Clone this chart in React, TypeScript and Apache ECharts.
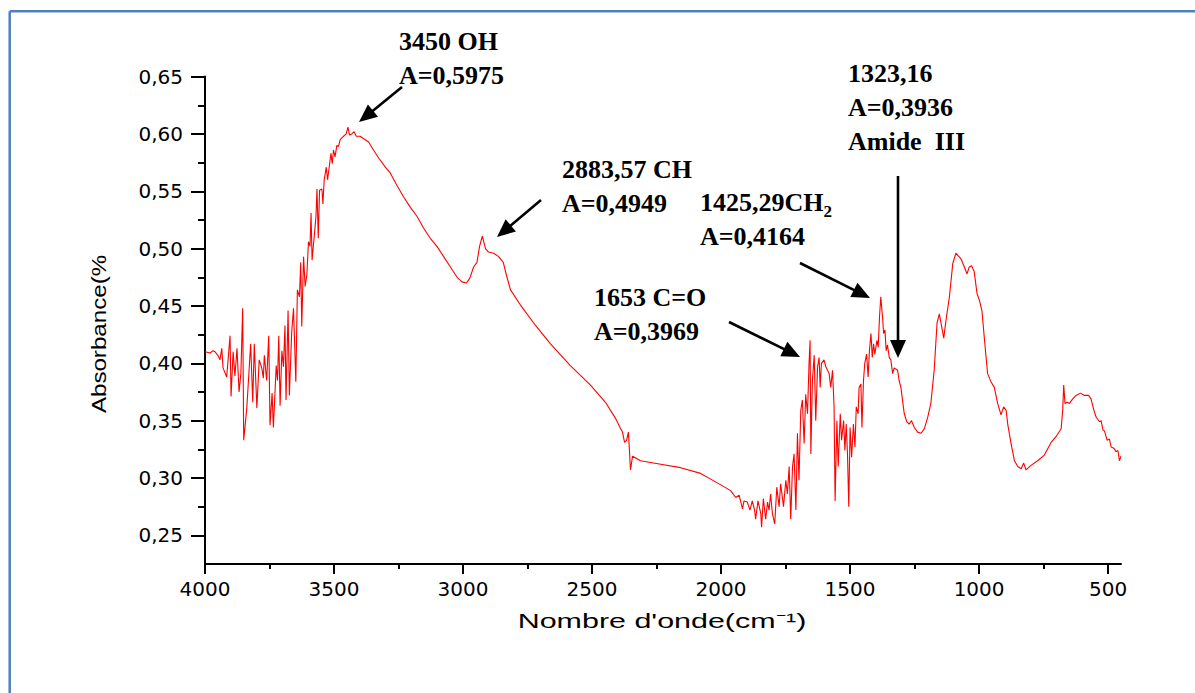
import React, { useEffect, useRef } from "react";
import * as echarts from "echarts";

// ---- Data (wavenumber cm-1, absorbance) ----
const noisyHighRegion: [number, number][] = [
  [4000, 0.410], [3980, 0.409], [3969, 0.411], [3961, 0.410], [3950, 0.407], [3942, 0.403],
  [3935, 0.413], [3930, 0.396], [3916, 0.388], [3903, 0.424], [3899, 0.371], [3891, 0.410],
  [3884, 0.389], [3876, 0.413], [3868, 0.375], [3861, 0.391], [3854, 0.448], [3850, 0.333],
  [3838, 0.361], [3823, 0.417], [3815, 0.366], [3809, 0.417], [3799, 0.361], [3790, 0.403],
  [3780, 0.396], [3774, 0.387], [3770, 0.407], [3761, 0.385], [3753, 0.424], [3748, 0.346],
  [3740, 0.374], [3735, 0.344], [3724, 0.398], [3719, 0.385], [3714, 0.424], [3709, 0.363],
  [3702, 0.411], [3696, 0.397], [3690, 0.433], [3686, 0.368], [3678, 0.446], [3673, 0.372],
  [3664, 0.427], [3657, 0.448], [3648, 0.384], [3642, 0.464],
];

const ohChBand: [number, number][] = [
  [3634, 0.458], [3629, 0.488], [3625, 0.432], [3618, 0.493], [3612, 0.467], [3605, 0.478],
  [3599, 0.506], [3593, 0.502], [3589, 0.531], [3585, 0.490], [3577, 0.510], [3570, 0.528],
  [3566, 0.552], [3561, 0.509], [3556, 0.551], [3547, 0.552], [3543, 0.539], [3538, 0.560],
  [3530, 0.571], [3525, 0.560], [3517, 0.574], [3512, 0.583], [3507, 0.574], [3502, 0.586],
  [3496, 0.580], [3489, 0.590], [3483, 0.589], [3476, 0.595], [3463, 0.598], [3453, 0.600],
  [3446, 0.606], [3440, 0.599], [3431, 0.600], [3422, 0.602], [3414, 0.598], [3399, 0.598],
  [3379, 0.595], [3366, 0.593], [3347, 0.586], [3327, 0.579], [3301, 0.571], [3282, 0.566],
  [3256, 0.555], [3230, 0.545], [3204, 0.536], [3178, 0.528], [3153, 0.518], [3127, 0.509],
  [3101, 0.502], [3075, 0.493], [3049, 0.484], [3023, 0.475], [3004, 0.471], [2987, 0.470],
  [2974, 0.474], [2959, 0.484], [2946, 0.488], [2936, 0.502], [2925, 0.511], [2913, 0.500],
  [2901, 0.497], [2881, 0.496], [2862, 0.493], [2844, 0.488],
];

const midRegion: [number, number][] = [
  [2832, 0.477], [2816, 0.464], [2778, 0.451], [2719, 0.433], [2661, 0.417], [2584, 0.398],
  [2506, 0.381], [2448, 0.366], [2409, 0.352], [2389, 0.343], [2382, 0.340], [2374, 0.331],
  [2366, 0.333], [2359, 0.340], [2351, 0.307], [2343, 0.319], [2312, 0.315], [2234, 0.312],
  [2157, 0.309], [2079, 0.304], [2040, 0.299], [2001, 0.294], [1963, 0.289], [1943, 0.283],
  [1930, 0.285], [1917, 0.273], [1911, 0.280], [1898, 0.279], [1888, 0.272], [1879, 0.280],
  [1870, 0.272], [1866, 0.264], [1857, 0.280], [1846, 0.269], [1843, 0.257], [1836, 0.282],
  [1827, 0.264], [1820, 0.279], [1814, 0.272], [1808, 0.286], [1801, 0.269], [1792, 0.260],
  [1784, 0.292], [1775, 0.275], [1769, 0.295], [1758, 0.275], [1749, 0.298], [1743, 0.286],
  [1736, 0.310], [1730, 0.264], [1723, 0.310], [1717, 0.321], [1710, 0.272], [1704, 0.339],
  [1698, 0.298],
];

const fingerprintRegion: [number, number][] = [
  [1691, 0.359], [1685, 0.368], [1678, 0.330], [1672, 0.373], [1665, 0.356], [1659, 0.400],
  [1655, 0.420], [1652, 0.321], [1646, 0.385], [1639, 0.407], [1633, 0.350], [1626, 0.397],
  [1620, 0.405], [1616, 0.379], [1611, 0.400], [1601, 0.403], [1594, 0.397], [1581, 0.391],
  [1575, 0.379], [1568, 0.394], [1562, 0.362], [1558, 0.280], [1551, 0.350], [1546, 0.310],
  [1538, 0.356], [1533, 0.333], [1525, 0.350], [1520, 0.324], [1515, 0.347], [1510, 0.321],
  [1505, 0.275], [1500, 0.344], [1494, 0.318], [1487, 0.347], [1481, 0.327], [1476, 0.362],
  [1469, 0.356], [1465, 0.379], [1458, 0.382], [1454, 0.344], [1448, 0.385], [1443, 0.400],
  [1436, 0.408], [1430, 0.388], [1425, 0.411], [1419, 0.426], [1414, 0.405], [1409, 0.417],
  [1404, 0.408], [1396, 0.420], [1391, 0.414], [1386, 0.440], [1381, 0.458], [1374, 0.440],
  [1370, 0.426], [1365, 0.429], [1360, 0.411], [1355, 0.416], [1348, 0.405], [1342, 0.403],
  [1335, 0.391], [1329, 0.396], [1316, 0.394], [1310, 0.385], [1303, 0.379], [1290, 0.356],
  [1280, 0.349], [1271, 0.347], [1262, 0.350], [1251, 0.344], [1238, 0.340], [1225, 0.339],
  [1212, 0.343], [1199, 0.353], [1187, 0.365], [1174, 0.394], [1163, 0.435], [1154, 0.443],
  [1145, 0.432], [1137, 0.422], [1128, 0.438], [1115, 0.458], [1102, 0.487], [1090, 0.496],
  [1070, 0.491], [1057, 0.484], [1047, 0.478], [1038, 0.484], [1029, 0.485], [1019, 0.480],
  [1008, 0.461], [999, 0.455], [989, 0.446], [980, 0.423], [967, 0.391], [954, 0.384],
  [941, 0.379], [928, 0.365], [915, 0.355], [905, 0.362], [895, 0.359], [889, 0.347],
  [876, 0.330], [863, 0.315], [850, 0.310], [837, 0.308], [827, 0.313], [818, 0.307],
  [799, 0.311], [773, 0.315], [747, 0.320], [721, 0.331], [702, 0.336], [682, 0.343],
  [676, 0.359], [672, 0.381], [667, 0.365], [659, 0.366], [650, 0.365], [637, 0.369],
  [624, 0.372], [607, 0.374], [592, 0.372], [576, 0.372], [566, 0.369], [555, 0.359],
  [546, 0.353], [533, 0.349], [527, 0.350], [520, 0.342], [514, 0.341], [504, 0.333],
  [495, 0.334], [488, 0.327], [478, 0.326], [469, 0.323], [462, 0.324], [456, 0.315],
  [450, 0.319],
];

const xTicks = [500, 1000, 1500, 2000, 2500, 3000, 3500, 4000];
const xMinorTicks = [750, 1250, 1750, 2250, 2750, 3250, 3750];
const yTicks = [0.25, 0.3, 0.35, 0.4, 0.45, 0.5, 0.55, 0.6, 0.65];
const yMinorTicks = [0.275, 0.325, 0.375, 0.425, 0.475, 0.525, 0.575, 0.625];

const annotationLines = [
  { lines: ["3450 OH", "A=0,5975"], x: 399, y: 41 },
  { lines: ["2883,57 CH", "A=0,4949"], x: 562, y: 169 },
  { lines: ["1425,29CH", "A=0,4164"], x: 700, y: 202 },
  { lines: ["1653 C=O", "A=0,3969"], x: 594, y: 297 },
  { lines: ["1323,16", "A=0,3936", "Amide  III"], x: 848, y: 73 },
];

const arrows: [number, number, number, number][] = [
  [402, 87, 359, 122],
  [541, 200, 497, 237],
  [800, 263, 870, 298],
  [729, 322, 800, 357],
  [898, 176, 898, 358],
];

const serif = "'Times New Roman', 'Liberation Serif', serif";

function buildArrow(x1: number, y1: number, x2: number, y2: number): any[] {
  const dx = x2 - x1;
  const dy = y2 - y1;
  const L = Math.hypot(dx, dy);
  const ux = dx / L;
  const uy = dy / L;
  const hl = 18;
  const hw = 8;
  const bx = x2 - ux * hl;
  const by = y2 - uy * hl;
  return [
    {
      type: "line",
      z: 100,
      shape: { x1, y1, x2: bx + ux * 2, y2: by + uy * 2 },
      style: { stroke: "#000", lineWidth: 2.6 },
    },
    {
      type: "polygon",
      z: 100,
      shape: {
        points: [
          [x2, y2],
          [bx - uy * hw, by + ux * hw],
          [bx + uy * hw, by - ux * hw],
        ],
      },
      style: { fill: "#000" },
    },
  ];
}

export default function App() {
  const ref = useRef<HTMLDivElement>(null);

  useEffect(() => {
    if (!ref.current) return;
    const chart = echarts.init(ref.current, null, { renderer: "svg" });

    const spectrum = [...noisyHighRegion, ...ohChBand, ...midRegion, ...fingerprintRegion];

    const graphics: any[] = [];
    // outer blue frame (left and top edges visible)
    graphics.push({
      type: "line",
      shape: { x1: 9.7, y1: 11.3, x2: 1200, y2: 11.3 },
      style: { stroke: "#4f81bd", lineWidth: 2.5 },
    });
    graphics.push({
      type: "line",
      shape: { x1: 9.7, y1: 11.3, x2: 9.7, y2: 700 },
      style: { stroke: "#4f81bd", lineWidth: 2.5 },
    });

    annotationLines.forEach((a) => {
      a.lines.forEach((t, i) => {
        graphics.push({
          type: "text",
          z: 100,
          x: a.x,
          y: a.y + i * 34,
          style: {
            text: t,
            fill: "#000",
            fontFamily: serif,
            fontWeight: "bold",
            fontSize: 26,
            textAlign: "left",
            textVerticalAlign: "middle",
          },
        });
      });
    });
    // subscript 2 of CH2
    graphics.push({
      type: "text",
      z: 100,
      x: 823.5,
      y: 211,
      style: {
        text: "2",
        fill: "#000",
        fontFamily: serif,
        fontWeight: "bold",
        fontSize: 17,
        textAlign: "left",
        textVerticalAlign: "middle",
      },
    });

    arrows.forEach((a) => graphics.push(...buildArrow(a[0], a[1], a[2], a[3])));

    // axis titles
    graphics.push({
      type: "text",
      x: 662,
      y: 621,
      scaleX: 1.45,
      style: {
        text: "Nombre d'onde(cm⁻¹)",
        fill: "#000",
        fontFamily: "'Liberation Sans', Arial, sans-serif",
        fontSize: 21,
        textAlign: "center",
        textVerticalAlign: "middle",
      },
    });
    graphics.push({
      type: "text",
      x: 99,
      y: 334,
      rotation: Math.PI / 2,
      scaleX: 1.15,
      style: {
        text: "Absorbance(%",
        fill: "#000",
        fontFamily: "'Liberation Sans', Arial, sans-serif",
        fontSize: 21,
        textAlign: "center",
        textVerticalAlign: "middle",
      },
    });

    const tickFont = { color: "#000", fontFamily: "'DejaVu Sans', sans-serif", fontSize: 20 };

    chart.setOption({
      animation: false,
      backgroundColor: "#fff",
      grid: { left: 205, right: 74, top: 76.6, bottom: 129, containLabel: false, outerBoundsMode: "none" },
      xAxis: [
        {
          type: "value",
          inverse: true,
          min: 450,
          max: 4000,
          position: "bottom",
          axisLine: { show: true, onZero: false, lineStyle: { color: "#000", width: 2 } },
          axisTick: { show: true, customValues: xTicks, length: 10, lineStyle: { color: "#000", width: 2 } },
          axisLabel: {
            show: true,
            customValues: xTicks,
            margin: 15,
            formatter: (v: number) => String(Math.round(v)),
            ...tickFont,
          },
          splitLine: { show: false },
        },
        {
          type: "value",
          inverse: true,
          min: 450,
          max: 4000,
          position: "bottom",
          axisLine: { show: false, onZero: false },
          axisTick: { show: true, customValues: xMinorTicks, length: 5, lineStyle: { color: "#000", width: 2 } },
          axisLabel: { show: false },
          splitLine: { show: false },
        },
      ],
      yAxis: [
        {
          type: "value",
          min: 0.225,
          max: 0.65,
          position: "left",
          axisLine: { show: true, onZero: false, lineStyle: { color: "#000", width: 2 } },
          axisTick: { show: true, customValues: yTicks, length: 14, lineStyle: { color: "#000", width: 2 } },
          axisLabel: {
            show: true,
            customValues: yTicks,
            margin: 22,
            formatter: (v: number) => v.toFixed(2).replace(".", ","),
            ...tickFont,
          },
          splitLine: { show: false },
        },
        {
          type: "value",
          min: 0.225,
          max: 0.65,
          position: "left",
          axisLine: { show: false, onZero: false },
          axisTick: { show: true, customValues: yMinorTicks, length: 7, lineStyle: { color: "#000", width: 2 } },
          axisLabel: { show: false },
          splitLine: { show: false },
        },
      ],
      series: [
        {
          type: "line",
          xAxisIndex: 0,
          yAxisIndex: 0,
          data: spectrum,
          showSymbol: false,
          symbol: "none",
          lineStyle: { color: "#ff0000", width: 1.1 },
        },
      ],
      graphic: { elements: graphics },
    });

    return () => chart.dispose();
  }, []);

  return (
    <div
      ref={ref}
      style={{ position: "absolute", left: 0, top: 0, width: 1195, height: 693, background: "#fff" }}
    />
  );
}
